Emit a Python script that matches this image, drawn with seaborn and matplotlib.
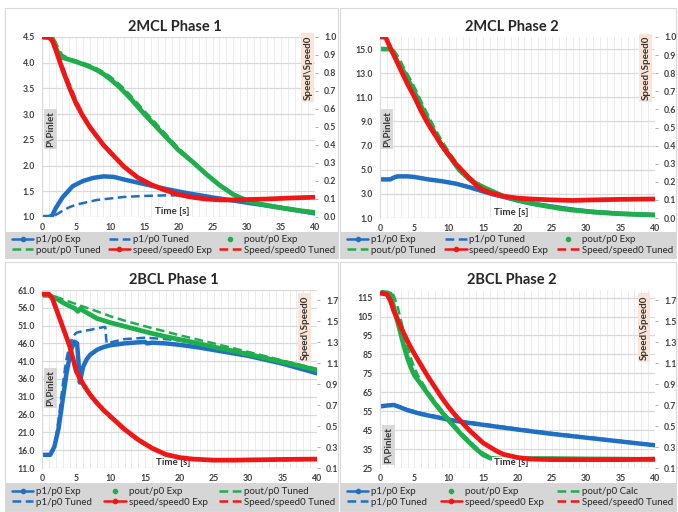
import numpy as np
import pandas as pd
import matplotlib
matplotlib.use("Agg")
import matplotlib.pyplot as plt
from matplotlib.lines import Line2D
from matplotlib.patches import Rectangle
from matplotlib.ticker import FormatStrFormatter, MultipleLocator
import seaborn as sns

sns.set_theme(style="white")
plt.rcParams['font.family'] = ['Lato', 'DejaVu Sans']

# ---------------- DATA ----------------
titles = ["2MCL Phase 1", "2MCL Phase 2", "2BCL Phase 1", "2BCL Phase 2"]
x_ticks = [0, 5, 10, 15, 20, 25, 30, 35, 40]

# Panel 1 : 2MCL Phase 1
p1_left_ticks = [1.0, 1.5, 2.0, 2.5, 3.0, 3.5, 4.0, 4.5]
p1_right_ticks = [0.0, 0.1, 0.2, 0.3, 0.4, 0.5, 0.6, 0.7, 0.8, 0.9, 1.0]
p1_t_p1 = [0, 1, 1.5, 2, 3, 4.5, 6, 7.5, 9, 10.5, 12, 15, 18, 21, 25, 30, 35, 40]
p1_p1_exp = [1.0, 1.0, 1.03, 1.17, 1.38, 1.6, 1.7, 1.76, 1.79, 1.78, 1.73, 1.64, 1.55, 1.47, 1.38, 1.28, 1.18, 1.07]
p1_t_p1t = [0, 1.5, 2, 3, 4, 5, 6, 8, 10, 12, 15, 18, 20, 22, 25, 28, 30, 35, 40]
p1_p1_tuned = [1.0, 1.0, 1.04, 1.12, 1.19, 1.24, 1.27, 1.33, 1.36, 1.39, 1.41, 1.42, 1.42, 1.41, 1.38, 1.33, 1.29, 1.18, 1.07]
p1_t_po = [0, 1.5, 2, 2.5, 3, 4, 5, 6, 7, 8, 9, 10, 11, 12, 13, 14, 15, 16, 18, 20, 22, 24, 26, 28, 30, 32, 35, 38, 40]
p1_pout_exp = [4.5, 4.48, 4.3, 4.15, 4.1, 4.06, 4.02, 3.97, 3.92, 3.86, 3.78, 3.68, 3.57, 3.44, 3.3, 3.15, 3.0, 2.86,
               2.58, 2.3, 2.08, 1.84, 1.62, 1.44, 1.32, 1.25, 1.18, 1.12, 1.09]
p1_pout_tuned = [4.5, 4.5, 4.4, 4.25, 4.15, 4.08, 4.04, 4.0, 3.95, 3.89, 3.82, 3.73, 3.62, 3.5, 3.36, 3.21, 3.06, 2.92,
                 2.63, 2.34, 2.1, 1.86, 1.64, 1.45, 1.33, 1.25, 1.17, 1.11, 1.08]
p1_t_sp = [0, 1, 1.5, 2, 3, 4, 5, 6, 7, 8, 9, 10, 11, 12, 13, 14, 15, 16, 18, 20, 22, 24, 26, 28, 30, 33, 36, 40]
p1_speed_exp = [1.0, 1.0, 0.98, 0.93, 0.82, 0.72, 0.63, 0.56, 0.5, 0.45, 0.4, 0.36, 0.32, 0.28, 0.25, 0.22, 0.2, 0.18,
                0.15, 0.125, 0.11, 0.1, 0.095, 0.095, 0.097, 0.1, 0.105, 0.11]
p1_speed_tuned = [1.0, 1.0, 0.99, 0.95, 0.84, 0.74, 0.65, 0.57, 0.51, 0.45, 0.4, 0.36, 0.32, 0.28, 0.25, 0.22, 0.195,
                  0.175, 0.145, 0.12, 0.105, 0.098, 0.095, 0.095, 0.098, 0.1, 0.103, 0.106]

# Panel 2 : 2MCL Phase 2
p2_left_ticks = [1.0, 3.0, 5.0, 7.0, 9.0, 11.0, 13.0, 15.0]
p2_right_ticks = [0.0, 0.1, 0.2, 0.3, 0.4, 0.5, 0.6, 0.7, 0.8, 0.9, 1.0]
p2_t_p1 = [0, 1.5, 2, 2.5, 4, 5, 7, 9, 11, 13, 15, 16.5, 18, 20, 22, 25, 28, 31, 35, 40]
p2_p1_exp = [4.2, 4.2, 4.35, 4.45, 4.45, 4.4, 4.2, 4.05, 3.85, 3.55, 3.2, 2.95, 2.75, 2.45, 2.2, 1.95, 1.7, 1.5, 1.35, 1.25]
p2_p1_tuned = [4.2, 4.2, 4.3, 4.4, 4.45, 4.42, 4.25, 4.07, 3.87, 3.57, 3.22, 2.97, 2.75, 2.45, 2.2, 1.95, 1.7, 1.5, 1.35, 1.25]
p2_t_po = [0, 1.5, 2, 2.5, 3, 3.6, 4.5, 5.4, 6.2, 7.1, 8, 9, 10, 11.5, 13, 14.5, 16, 18, 20, 23, 26, 28, 31, 35, 40]
p2_pout_exp = [15, 15, 14.6, 14.0, 13.5, 13.0, 12.0, 11.0, 10.0, 9.0, 8.0, 7.0, 6.2, 5.0, 4.2, 3.7, 3.3, 2.8, 2.5,
               2.1, 1.8, 1.65, 1.5, 1.35, 1.25]
p2_pout_tuned = [15, 15, 14.9, 14.5, 14.0, 13.3, 12.4, 11.4, 10.4, 9.4, 8.4, 7.4, 6.5, 5.3, 4.4, 3.8, 3.3, 2.8, 2.5,
                 2.1, 1.8, 1.65, 1.5, 1.35, 1.25]
p2_t_sp = [0, 0.8, 1.5, 2, 3, 4, 5, 6, 7, 8, 9, 10, 11, 12, 13, 14, 15, 16, 18, 20, 22, 25, 28, 31, 35, 40]
p2_speed_exp = [1.0, 1.0, 0.94, 0.9, 0.82, 0.74, 0.67, 0.59, 0.52, 0.46, 0.4, 0.35, 0.3, 0.26, 0.22, 0.18, 0.155,
                0.14, 0.12, 0.11, 0.105, 0.1, 0.097, 0.1, 0.103, 0.105]
p2_speed_tuned = [1.0, 1.0, 0.95, 0.9, 0.82, 0.74, 0.66, 0.58, 0.51, 0.45, 0.39, 0.34, 0.3, 0.26, 0.22, 0.18, 0.155,
                  0.14, 0.12, 0.108, 0.1, 0.097, 0.097, 0.1, 0.1, 0.103]

# Panel 3 : 2BCL Phase 1
p3_left_ticks = [11.0, 16.0, 21.0, 26.0, 31.0, 36.0, 41.0, 46.0, 51.0, 56.0, 61.0]
p3_right_ticks = [0.1, 0.3, 0.5, 0.7, 0.9, 1.1, 1.3, 1.5, 1.7]
p3_t_p1 = [0, 1.2, 1.8, 2.4, 3, 3.6, 4.2, 4.7, 5.1, 5.3, 5.5, 5.7, 6, 6.5, 7, 8, 9, 10, 12, 14, 15, 15.3, 16, 18, 20,
           23, 26, 30, 35, 40]
p3_p1_exp = [14.7, 14.7, 17, 22, 30, 38, 44, 46.5, 46, 41, 35, 37, 39.5, 41.5, 42.8, 44.2, 45, 45.5, 46, 46.3, 46.4,
             46.0, 46.2, 46, 45.6, 44.8, 43.8, 42.5, 40.3, 37.6]
p3_t_p1t = [0, 1.5, 2, 2.5, 3, 3.5, 4, 4.5, 5, 6, 7, 8, 9, 9.2, 9.4, 10, 12, 15, 18, 20, 25, 30, 35, 40]
p3_p1_tuned = [14.7, 14.7, 19, 26, 34, 41, 45.5, 48, 49, 49.5, 49.8, 50.2, 50.6, 50.6, 46, 46.3, 47.2, 47.6, 47.2,
               46.8, 45, 43.2, 41, 38.5]
p3_t_po = [0, 1, 2, 3, 4, 4.8, 5.2, 5.6, 6, 8, 10, 12, 14, 16, 18, 20, 22, 25, 28, 31, 34, 37, 40]
p3_pout_exp = [59.5, 59.5, 58.7, 57.5, 56.5, 55.8, 55.0, 55.8, 55.2, 53.0, 51.8, 50.8, 49.8, 48.8, 47.9, 47.1, 46.3,
               45.0, 43.8, 42.5, 41.2, 39.9, 38.5]
p3_t_pot = [0, 1, 2, 3, 5, 8, 10, 12, 15, 20, 25, 30, 35, 40]
p3_pout_tuned = [59.5, 59.5, 59.1, 58.4, 57.0, 55.0, 53.6, 52.4, 50.8, 48.3, 46.0, 43.6, 41.2, 38.8]
p3_t_sp = [0, 1, 1.5, 2, 3, 4, 5, 6, 7, 8, 9, 10, 11, 12, 13, 14, 15, 16, 18, 20, 22, 25, 28, 31, 35, 40]
p3_speed_exp = [1.76, 1.76, 1.72, 1.63, 1.45, 1.27, 1.02, 0.9, 0.8, 0.72, 0.65, 0.59, 0.53, 0.47, 0.42, 0.37, 0.33,
                0.29, 0.23, 0.2, 0.185, 0.175, 0.175, 0.178, 0.182, 0.185]
p3_speed_tuned = [1.76, 1.76, 1.72, 1.62, 1.43, 1.25, 1.0, 0.88, 0.79, 0.71, 0.64, 0.58, 0.52, 0.46, 0.41, 0.36, 0.32,
                  0.28, 0.22, 0.19, 0.18, 0.172, 0.17, 0.172, 0.175, 0.178]

# Panel 4 : 2BCL Phase 2
p4_left_ticks = [25, 35, 45, 55, 65, 75, 85, 95, 105, 115]
p4_right_ticks = [0.1, 0.3, 0.5, 0.7, 0.9, 1.1, 1.3, 1.5, 1.7]
p4_t_p1 = [0, 1, 2, 3, 4, 5, 6, 8, 10, 12, 15, 18, 20, 25, 30, 35, 40]
p4_p1_exp = [57.5, 58, 58.3, 57, 55.5, 54.5, 53.5, 52, 50.5, 49.3, 47.8, 46.3, 45.3, 43, 41, 39, 37]
p4_p1_tuned = [57.5, 58, 58.3, 57.3, 56, 55, 54, 52.5, 51, 49.8, 48.2, 46.8, 45.8, 43.5, 41.4, 39.3, 37.2]
p4_t_po = [0, 1.5, 2, 2.5, 3, 3.5, 4, 4.5, 5, 5.5, 6, 7, 8, 9, 10, 11, 12, 13, 14, 15, 16, 17, 18, 20, 25, 30, 35, 40]
p4_pout_exp = [118, 117, 110, 103, 96, 89, 83, 78, 74, 71.5, 69, 64, 59, 54.5, 50, 46, 42, 38.5, 35, 32, 30.3, 29.8,
               29.8, 30, 30, 29.8, 29.7, 29.5]
p4_pout_calc = [118, 118, 116, 111, 104, 96, 89, 83, 78, 74, 71, 65, 60, 55.5, 51, 47, 43, 39.5, 36, 33, 31, 30, 30,
                30, 30.2, 30, 29.8, 29.6]
p4_t_sp = [0, 1, 1.5, 2, 3, 4, 5, 6, 7, 8, 9, 10, 11, 12, 13, 14, 15, 16, 17, 18, 20, 22, 25, 30, 35, 40]
p4_speed_exp = [1.77, 1.76, 1.7, 1.6, 1.45, 1.31, 1.19, 1.08, 0.97, 0.87, 0.77, 0.68, 0.6, 0.53, 0.46, 0.4, 0.34,
                0.3, 0.26, 0.23, 0.2, 0.185, 0.18, 0.18, 0.18, 0.185]
p4_speed_tuned = [1.77, 1.77, 1.72, 1.62, 1.47, 1.33, 1.2, 1.09, 0.98, 0.88, 0.78, 0.69, 0.61, 0.53, 0.46, 0.4, 0.34,
                  0.3, 0.26, 0.23, 0.2, 0.185, 0.178, 0.177, 0.178, 0.182]

# ---------------- STYLE ----------------
BLUE = "#1f6fc4"
GREEN = "#1fae4b"
RED = "#f01616"
GRID = "#d9d9d9"
VGRID = "#e9e9e9"
TXT = "#404040"

W, H = 678, 512
fig = plt.figure(figsize=(W / 100, H / 100), dpi=100)
fig.patch.set_facecolor("white")


def fig_rect(x0, y0, x1, y1, **kw):
    r = Rectangle((x0 / W, 1 - y1 / H), (x1 - x0) / W, (y1 - y0) / H, transform=fig.transFigure, **kw)
    fig.add_artist(r)


def line(ax, t, v, color, lw, ls="-"):
    sns.lineplot(x=t, y=v, ax=ax, color=color, linewidth=lw, linestyle=ls,
                 estimator=None, sort=False, legend=False)


DASH = (0, (3.5, 1.8))

panels = [
    dict(title=titles[0], box=(5, 8, 338, 258), ax=(42, 315, 37, 217), band=(232, 258), tx=175, ty=27,
         lt=p1_left_ticks, rt=p1_right_ticks, ylim=(1.0, 4.5), y2lim=(0.0, 1.0), fmt="%.1f",
         pin=(0.03, 0.49), spd=(0.974, 0.83), legend_kind=0,
         p1=(p1_t_p1, p1_p1_exp), p1t=(p1_t_p1t, p1_p1_tuned), po=(p1_t_po, p1_pout_exp),
         pot=(p1_t_po, p1_pout_tuned), sp=(p1_t_sp, p1_speed_exp), spt=(p1_t_sp, p1_speed_tuned)),
    dict(title=titles[1], box=(340, 8, 676, 258), ax=(380, 655, 37, 218), band=(232, 258), tx=512, ty=27,
         lt=p2_left_ticks, rt=p2_right_ticks, ylim=(1.0, 16.0), y2lim=(0.0, 1.0), fmt="%.1f",
         pin=(0.025, 0.49), spd=(0.967, 0.83), legend_kind=0,
         p1=(p2_t_p1, p2_p1_exp), p1t=(p2_t_p1, p2_p1_tuned), po=(p2_t_po, p2_pout_exp),
         pot=(p2_t_po, p2_pout_tuned), sp=(p2_t_sp, p2_speed_exp), spt=(p2_t_sp, p2_speed_tuned)),
    dict(title=titles[2], box=(5, 262, 338, 511), ax=(42, 317, 290, 468), band=(483, 511), tx=174, ty=280,
         lt=p3_left_ticks, rt=p3_right_ticks, ylim=(11.0, 61.0), y2lim=(0.1, 1.8), fmt="%.1f",
         pin=(0.03, 0.45), spd=(0.956, 0.79), legend_kind=1,
         p1=(p3_t_p1, p3_p1_exp), p1t=(p3_t_p1t, p3_p1_tuned), po=(p3_t_po, p3_pout_exp),
         pot=(p3_t_pot, p3_pout_tuned), sp=(p3_t_sp, p3_speed_exp), spt=(p3_t_sp, p3_speed_tuned)),
    dict(title=titles[3], box=(340, 262, 676, 511), ax=(380, 655, 290, 468), band=(483, 511), tx=512, ty=280,
         lt=p4_left_ticks, rt=p4_right_ticks, ylim=(25, 119), y2lim=(0.1, 1.8), fmt="%d",
         pin=(0.03, 0.13), spd=(0.96, 0.79), legend_kind=2,
         p1=(p4_t_p1, p4_p1_exp), p1t=(p4_t_p1, p4_p1_tuned), po=(p4_t_po, p4_pout_exp),
         pot=(p4_t_po, p4_pout_calc), sp=(p4_t_sp, p4_speed_exp), spt=(p4_t_sp, p4_speed_tuned)),
]

for P in panels:
    bx0, by0, bx1, by1 = P["box"]
    fig_rect(bx0, by0, bx1, by1, facecolor="white", edgecolor=GRID, linewidth=0.8, zorder=0)
    fig_rect(bx0 + 0.5, P["band"][0], bx1 - 0.5, P["band"][1], facecolor="#d6d6d6", edgecolor="none", zorder=0.5)

    l, r, t, b = P["ax"]
    ax = fig.add_axes([l / W, 1 - b / H, (r - l) / W, (b - t) / H])
    ax.set_zorder(1)
    ax.patch.set_alpha(0)
    ax2 = ax.twinx()
    ax2.set_zorder(2)
    ax2.patch.set_alpha(0)

    # series
    line(ax, *P["p1"], BLUE, 3.2)
    line(ax, *P["p1t"], BLUE, 1.8, DASH)
    line(ax, *P["po"], GREEN, 3.4)
    line(ax, *P["pot"], GREEN, 1.8, DASH)
    line(ax2, *P["sp"], RED, 3.4)
    line(ax2, *P["spt"], RED, 1.8, DASH)

    ax.set_xlim(0, 40)
    ax.set_ylim(*P["ylim"])
    ax2.set_ylim(*P["y2lim"])
    ax.set_xticks(x_ticks)
    ax.xaxis.set_minor_locator(MultipleLocator(1))
    ax.set_yticks(P["lt"])
    ax2.set_yticks(P["rt"])
    ax.yaxis.set_major_formatter(FormatStrFormatter(P["fmt"]))
    ax2.yaxis.set_major_formatter(FormatStrFormatter("%.1f"))
    ax.set_xlabel("")
    ax.set_ylabel("")
    ax2.set_ylabel("")

    ax.grid(False)
    ax2.grid(False)
    ax.grid(True, which="minor", axis="x", color=VGRID, linewidth=0.6)
    ax.grid(True, which="major", axis="x", color=VGRID, linewidth=0.6)
    ax.grid(True, which="major", axis="y", color=GRID, linewidth=0.9)
    ax.set_axisbelow(True)

    for a in (ax, ax2):
        for s in a.spines.values():
            s.set_visible(False)
    ax.spines["left"].set_visible(True)
    ax.spines["left"].set_color(GRID)
    ax.spines["left"].set_linewidth(0.8)

    ax.tick_params(axis="x", which="both", length=0, pad=4.5, labelsize=6.3, labelcolor=TXT)
    ax.tick_params(axis="y", length=0, pad=5, labelsize=6.3, labelcolor=TXT)
    ax2.tick_params(axis="y", length=2.5, width=0.6, color="#a0a0a0", pad=4, labelsize=6.3, labelcolor=TXT)
    for lab in ax.get_xticklabels() + ax.get_yticklabels() + ax2.get_yticklabels():
        lab.set_fontweight("bold")

    # in-plot labels
    ax.text(0.476, 0.005, "Time [s]", transform=ax.transAxes, ha="center", va="bottom", fontsize=7,
            fontweight="bold", color="#333333", zorder=5,
            bbox=dict(boxstyle="square,pad=0.15", facecolor="white", edgecolor="none"))
    ax2.text(P["pin"][0], P["pin"][1], "P\\Pinlet", transform=ax.transAxes, ha="center", va="center",
             rotation=90, fontsize=7, fontweight="bold", color="#333333", zorder=5,
             bbox=dict(boxstyle="square,pad=0.2", facecolor="#d9d9d9", edgecolor="none"))
    ax2.text(P["spd"][0], P["spd"][1], "Speed\\Speed0", transform=ax.transAxes, ha="center", va="center",
             rotation=90, fontsize=7, fontweight="bold", color="#333333", zorder=5,
             bbox=dict(boxstyle="square,pad=0.2", facecolor="#fce4d6", edgecolor="none"))

    # title
    fig.text(P["tx"] / W, 1 - P["ty"] / H, P["title"], ha="center", va="center", fontsize=10.5,
             fontweight="bold", color="#262626")

    # legend
    h_p1 = Line2D([], [], color=BLUE, lw=1.8, marker="o", ms=3)
    h_p1t = Line2D([], [], color=BLUE, lw=1.8, ls=DASH)
    h_po = Line2D([], [], color=GREEN, lw=0, marker="o", ms=3)
    h_pot = Line2D([], [], color=GREEN, lw=1.8, ls=DASH)
    h_sp = Line2D([], [], color=RED, lw=1.8, marker="o", ms=3)
    h_spt = Line2D([], [], color=RED, lw=1.8, ls=DASH)
    if P["legend_kind"] == 0:
        handles = [h_p1, h_pot, h_p1t, h_sp, h_po, h_spt]
        labels = ["p1/p0 Exp", "pout/p0 Tuned", "p1/p0 Tuned", "speed/speed0 Exp", "pout/p0 Exp",
                  "Speed/speed0 Tuned"]
    else:
        third = "pout/p0 Tuned" if P["legend_kind"] == 1 else "pout/p0 Calc"
        handles = [h_p1, h_p1t, h_po, h_sp, h_pot, h_spt]
        labels = ["p1/p0 Exp", "p1/p0 Tuned", "pout/p0 Exp", "speed/speed0 Exp", third, "Speed/speed0 Tuned"]
    y0, y1 = P["band"]
    fig.legend(handles, labels, loc="center", ncol=3, mode="expand", frameon=False, fontsize=7,
               bbox_to_anchor=((bx0 + 6) / W, 1 - y1 / H, (bx1 - bx0 - 8) / W, (y1 - y0) / H),
               handlelength=2.2, handletextpad=0.3, labelspacing=0.15, borderpad=0.1, borderaxespad=0,
               labelcolor="#262626")

fig.savefig("out.png", dpi=100, facecolor="white")
